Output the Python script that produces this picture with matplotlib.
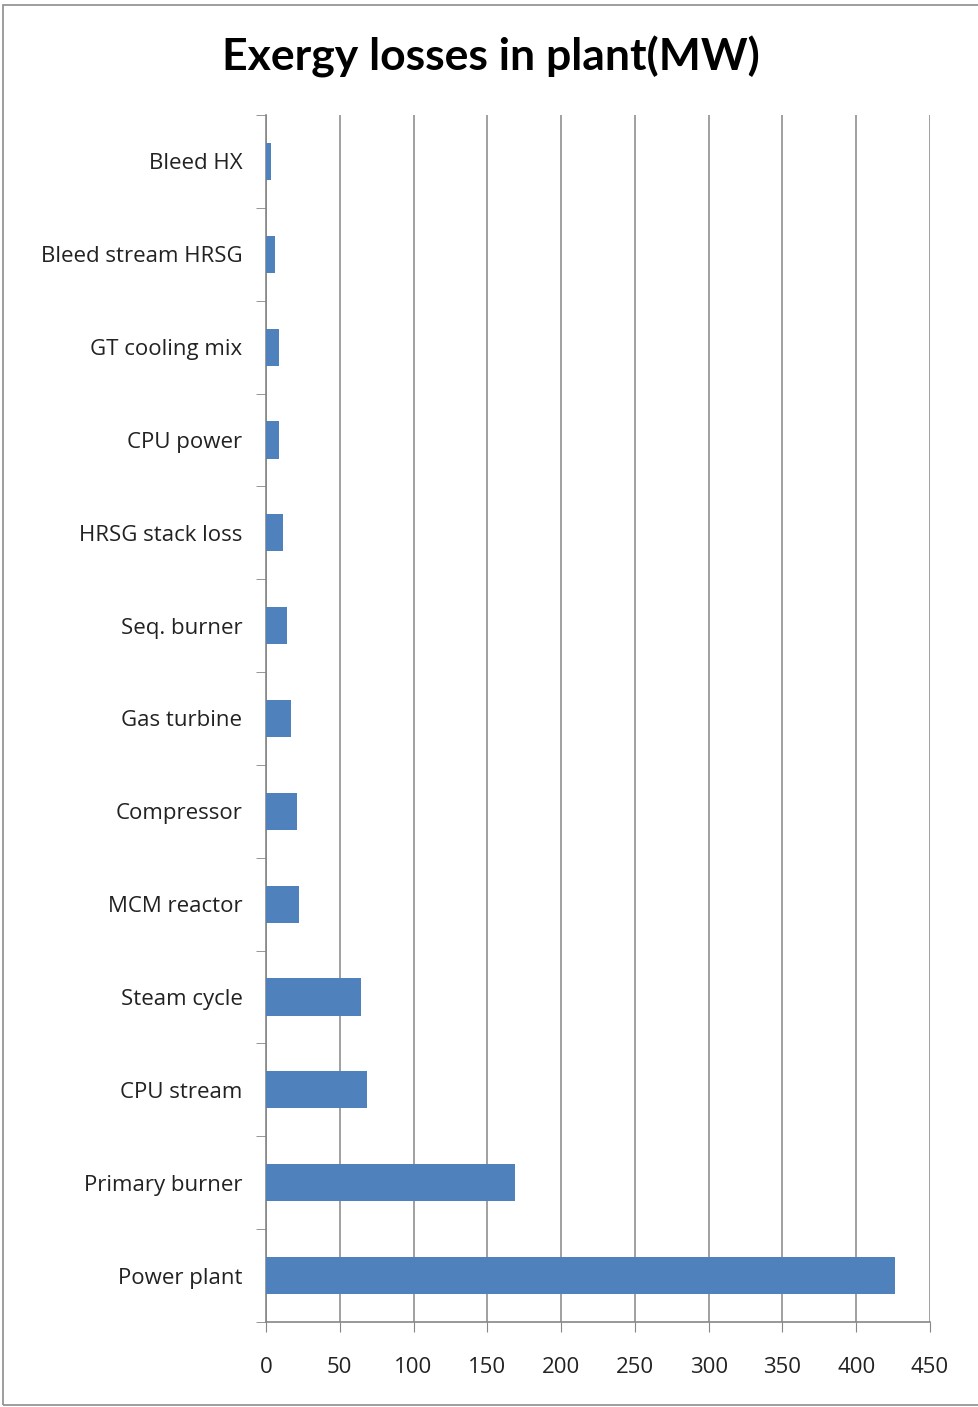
import numpy as np
import matplotlib
matplotlib.use("Agg")
import matplotlib.pyplot as plt
from matplotlib.patches import Rectangle

# data, top to bottom as in the chart
categories = ["Bleed HX", "Bleed stream HRSG", "GT cooling mix", "CPU power",
              "HRSG stack loss", "Seq. burner", "Gas turbine", "Compressor",
              "MCM reactor", "Steam cycle", "CPU stream", "Primary burner",
              "Power plant"]
losses = [3.4, 6.1, 8.8, 8.8, 11.5, 14.2, 16.9, 21.0, 22.6, 64.2, 68.2, 168.5, 426.5]
xticks = [0, 50, 100, 150, 200, 250, 300, 350, 400, 450]

plt.rcParams['font.family'] = ['Open Sans', 'DejaVu Sans']

fig = plt.figure(figsize=(9.79, 14.07), dpi=100)
fig.patches.append(Rectangle((3/979, 2/1407), 1.2, 1400/1407, transform=fig.transFigure,
                             fill=False, edgecolor='#8c8c8c', linewidth=1.2))

ax = fig.add_axes([266/979, 1 - 1322/1407, 664/979, (1322 - 115)/1407])

y = np.arange(len(categories))
ax.barh(y, losses, height=0.4, color='#4f81bd', zorder=3)

ax.set_xlim(0, 450)
ax.set_ylim(len(categories) - 0.5, -0.5)
ax.set_xticks(xticks)
ax.set_xticklabels([str(t) for t in xticks], fontsize=16, color='#222222')
ax.set_yticks(y)
ax.set_yticklabels(categories, fontsize=16, color='#222222')
ax.set_yticks(np.arange(len(categories) + 1) - 0.5, minor=True)

ax.tick_params(axis='y', which='major', length=0, pad=17)
ax.tick_params(axis='y', which='minor', length=7, color='#868686', direction='out')
ax.tick_params(axis='x', which='major', length=7, color='#868686', direction='out', pad=18)

ax.grid(axis='x', color='#868686', linewidth=1.1, zorder=0)
for s in ['top', 'right']:
    ax.spines[s].set_visible(False)
for s in ['left', 'bottom']:
    ax.spines[s].set_color('#868686')
    ax.spines[s].set_linewidth(1.2)

fig.text(491/979, 1 - 57/1407, "Exergy losses in plant(MW)", ha='center', va='center',
         family=['Lato', 'DejaVu Sans'], fontsize=32, fontweight='bold', color='black')

fig.savefig("out.png", dpi=100)
